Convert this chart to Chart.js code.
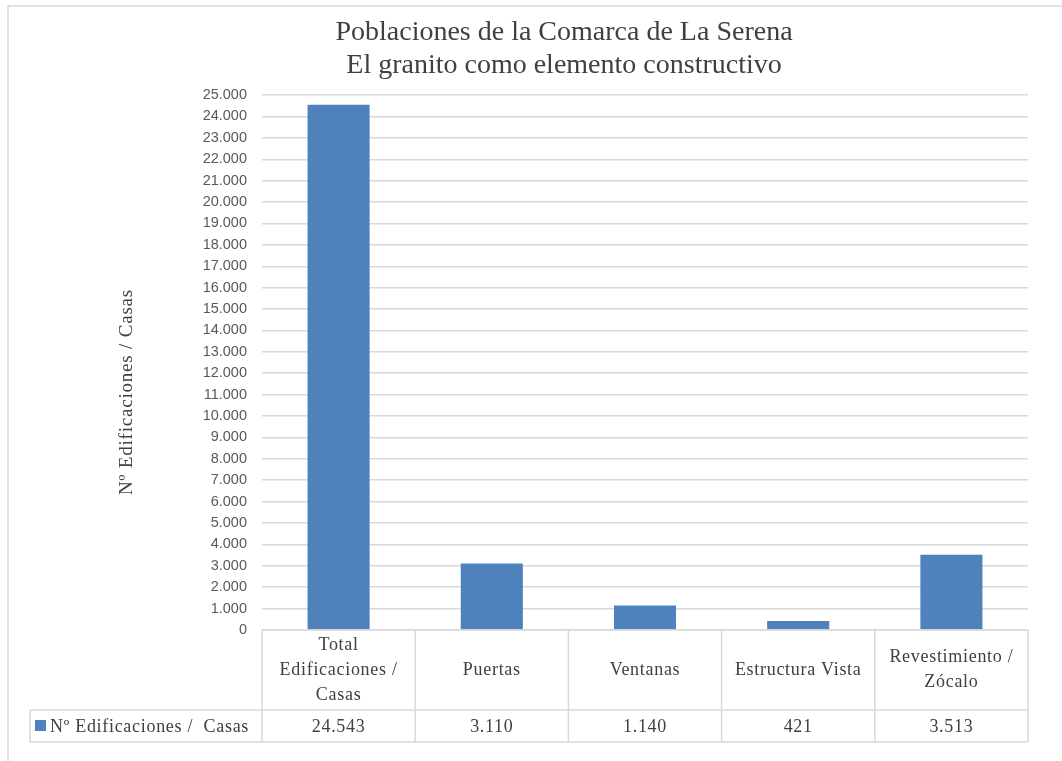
<!DOCTYPE html>
<html>
<head>
<meta charset="utf-8">
<script src="https://cdn.jsdelivr.net/npm/chart.js@4"></script>
<style>
    body { margin: 0; background: #fff; }
    #wrap { width: 1062px; height: 761px; }
</style>
</head>
<body>
<div id="wrap"><canvas id="barChart" width="1062" height="761"></canvas></div>
<script>
const titleLines = ["Poblaciones de la Comarca de La Serena", "El granito como elemento constructivo"];
const seriesName = "Nº Edificaciones /  Casas";
const axisTitle = "Nº Edificaciones / Casas";
const categories = [
    ["Total", "Edificaciones /", "Casas"],
    ["Puertas"],
    ["Ventanas"],
    ["Estructura Vista"],
    ["Revestimiento /", "Zócalo"]
];
const values = [24543, 3110, 1140, 421, 3513];
const yMax = 25000;
const yStep = 1000;

const barColor = "#4f81bd";
const lineColor = "#d9d9d9";
const textColor = "#404040";
const serif = "'Liberation Serif', serif";

// 24543 -> "24.543"
let formatNumber = function (n) {
    return String(n).replace(/\B(?=(\d{3})+(?!\d))/g, ".");
}

// outer frame of the chart object + rotated value axis title
const framePlugin = {
    id: "frame",
    beforeDraw(chart) {
        const ctx = chart.ctx;
        ctx.save();
        ctx.fillStyle = "#fff";
        ctx.fillRect(0, 0, chart.width, chart.height);
        ctx.strokeStyle = lineColor;
        ctx.lineWidth = 1.5;
        ctx.beginPath();
        ctx.moveTo(8, chart.height);
        ctx.lineTo(8, 6);
        ctx.lineTo(chart.width, 6);
        ctx.stroke();
        ctx.restore();
    },
    afterDraw(chart) {
        const ctx = chart.ctx;
        ctx.save();
        ctx.translate(127, 392);
        ctx.rotate(-Math.PI / 2);
        ctx.fillStyle = textColor;
        ctx.font = "19px " + serif;
        ctx.letterSpacing = "0.8px";
        ctx.textAlign = "center";
        ctx.textBaseline = "middle";
        ctx.fillText(axisTitle, 0, 0);
        ctx.restore();
    }
};

// data table under the plot: category row + value row with legend key
const dataTablePlugin = {
    id: "dataTable",
    afterDraw(chart) {
        const ctx = chart.ctx;
        const x = chart.scales.x;
        const area = chart.chartArea;
        const n = categories.length;
        const cellW = x.width / n;
        const headTop = area.bottom;
        const headBottom = headTop + 80;
        const rowBottom = headBottom + 32;
        const legendLeft = 30;

        ctx.save();
        ctx.strokeStyle = lineColor;
        ctx.lineWidth = 1.5;
        ctx.beginPath();
        ctx.moveTo(x.left, headTop);
        ctx.lineTo(x.right, headTop);
        ctx.moveTo(legendLeft, headBottom);
        ctx.lineTo(x.right, headBottom);
        ctx.moveTo(legendLeft, rowBottom);
        ctx.lineTo(x.right, rowBottom);
        ctx.moveTo(legendLeft, headBottom);
        ctx.lineTo(legendLeft, rowBottom);
        for (let i = 0; i <= n; i++) {
            const bx = x.left + i * cellW;
            ctx.moveTo(bx, headTop);
            ctx.lineTo(bx, rowBottom);
        }
        ctx.stroke();

        ctx.fillStyle = textColor;
        ctx.font = "18px " + serif;
        ctx.letterSpacing = "0.7px";
        ctx.textAlign = "center";
        ctx.textBaseline = "middle";
        const lineH = 25;
        categories.forEach((lines, i) => {
            const cx = x.getPixelForValue(i);
            const midY = (headTop + headBottom) / 2;
            const startY = midY - (lines.length - 1) * lineH / 2;
            lines.forEach((line, j) => ctx.fillText(line, cx, startY + j * lineH));
            ctx.fillText(formatNumber(values[i]), cx, (headBottom + rowBottom) / 2 + 1);
        });

        // legend key
        const midRow = (headBottom + rowBottom) / 2;
        ctx.fillStyle = barColor;
        ctx.fillRect(35, midRow - 6, 11, 11);
        ctx.fillStyle = textColor;
        ctx.textAlign = "left";
        ctx.fillText(seriesName, 50, midRow + 1);
        ctx.restore();
    }
};

const barChart = document.getElementById("barChart");

new Chart(barChart, {
    type: "bar",
    data: {
        labels: categories,
        datasets: [{
            label: seriesName,
            data: values,
            backgroundColor: barColor,
            borderWidth: 0,
            barPercentage: 0.9,
            categoryPercentage: 0.45
        }]
    },
    options: {
        responsive: false,
        animation: false,
        layout: {
            padding: { left: 100, right: 34, top: 0, bottom: 131 }
        },
        plugins: {
            legend: { display: false },
            tooltip: { enabled: false },
            title: {
                display: true,
                text: titleLines,
                color: textColor,
                font: { family: serif, size: 28, weight: "normal", lineHeight: 1.18 },
                padding: { top: 16, bottom: 13 }
            }
        },
        scales: {
            x: {
                display: false
            },
            y: {
                min: 0,
                max: yMax,
                border: { display: false },
                grid: { color: lineColor, lineWidth: 1.5, drawTicks: false },
                ticks: {
                    stepSize: yStep,
                    padding: 15,
                    color: "#595959",
                    font: { family: "'Liberation Sans', sans-serif", size: 14.5 },
                    callback: (v) => formatNumber(v)
                },
                afterFit(scale) {
                    scale.width = 162;
                }
            }
        }
    },
    plugins: [framePlugin, dataTablePlugin]
});
</script>
</body>
</html>
